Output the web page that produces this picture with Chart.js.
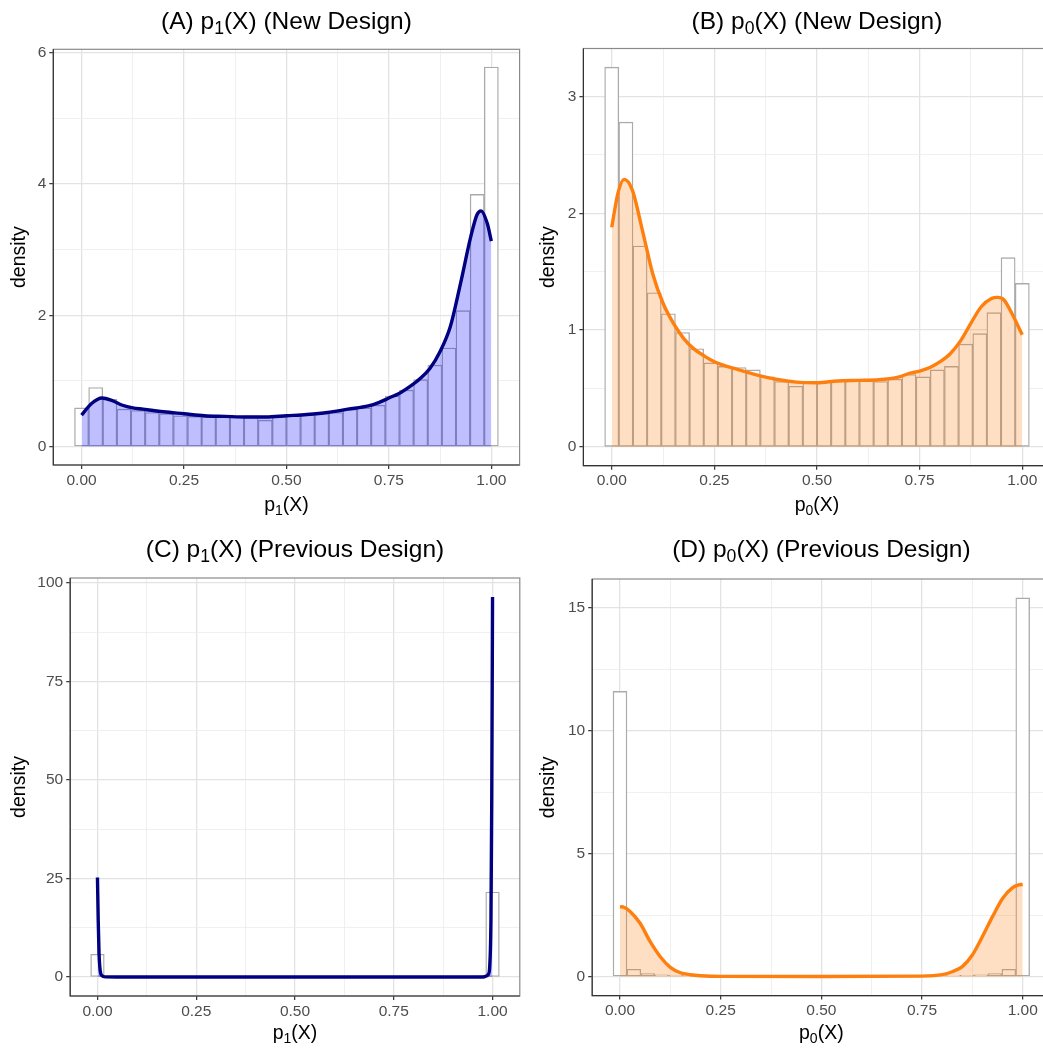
<!DOCTYPE html>
<html>
<head>
<meta charset="utf-8">
<script src="https://cdn.jsdelivr.net/npm/chart.js@4.4.1/dist/chart.umd.min.js"></script>
<style>
  html, body { margin: 0; padding: 0; background: #fff; overflow: hidden; }
  #wrap { position: relative; width: 1043px; height: 1050px; overflow: hidden; background: #fff; }
  canvas { position: absolute; }
</style>
</head>
<body>
<div id="wrap">
  <canvas id="chartA" width="530" height="525" style="left:0px;top:0px"></canvas>
  <canvas id="chartB" width="530" height="525" style="left:530px;top:0px"></canvas>
  <canvas id="chartC" width="530" height="525" style="left:0px;top:525px"></canvas>
  <canvas id="chartD" width="530" height="525" style="left:530px;top:525px"></canvas>
</div>
<script>
// histogram bin centres (30 bins, ggplot default)
const binCenters = [0, 0.0345, 0.069, 0.1034, 0.1379, 0.1724, 0.2069, 0.2414, 0.2759, 0.3103,
  0.3448, 0.3793, 0.4138, 0.4483, 0.4828, 0.5172, 0.5517, 0.5862, 0.6207, 0.6552,
  0.6897, 0.7241, 0.7586, 0.7931, 0.8276, 0.8621, 0.8966, 0.931, 0.9655, 1];

// (A) p1(X) new design
const histA = [0.59, 0.90, 0.72, 0.57, 0.55, 0.52, 0.50, 0.47, 0.46, 0.45, 0.45, 0.45, 0.47, 0.40, 0.46,
  0.48, 0.49, 0.51, 0.52, 0.57, 0.59, 0.63, 0.77, 0.86, 1.02, 1.24, 1.50, 2.07, 3.84, 5.78];
const densAX = [0, 0.025, 0.05, 0.075, 0.1, 0.125, 0.15, 0.175, 0.2, 0.25, 0.3, 0.35, 0.4, 0.45, 0.5, 0.55,
  0.6, 0.65, 0.7, 0.725, 0.75, 0.775, 0.8, 0.825, 0.85, 0.875, 0.9, 0.925, 0.95, 0.965, 0.975, 0.99, 1.0];
const densAY = [0.48, 0.66, 0.74, 0.70, 0.63, 0.59, 0.57, 0.55, 0.53, 0.50, 0.47, 0.46, 0.45, 0.45, 0.47, 0.49,
  0.52, 0.57, 0.62, 0.67, 0.74, 0.81, 0.91, 1.03, 1.19, 1.45, 1.83, 2.49, 3.20, 3.53, 3.59, 3.40, 3.13];

// (B) p0(X) new design
const histB = [3.25, 2.78, 1.72, 1.32, 1.14, 0.98, 0.84, 0.72, 0.69, 0.68, 0.66, 0.60, 0.56, 0.52, 0.56,
  0.56, 0.565, 0.57, 0.57, 0.56, 0.58, 0.62, 0.60, 0.66, 0.69, 0.88, 0.97, 1.15, 1.62, 1.40];
const densBX = [0, 0.015, 0.03, 0.05, 0.075, 0.1, 0.125, 0.15, 0.175, 0.2, 0.225, 0.25, 0.3, 0.35, 0.4, 0.45,
  0.5, 0.55, 0.6, 0.65, 0.7, 0.725, 0.75, 0.775, 0.8, 0.825, 0.85, 0.875, 0.9, 0.925, 0.94, 0.955, 0.975, 1.0];
const densBY = [1.88, 2.17, 2.29, 2.20, 1.85, 1.48, 1.23, 1.06, 0.93, 0.84, 0.78, 0.73, 0.67, 0.62, 0.58, 0.555,
  0.55, 0.565, 0.57, 0.575, 0.60, 0.63, 0.65, 0.68, 0.73, 0.80, 0.91, 1.06, 1.20, 1.27, 1.28, 1.26, 1.14, 0.96];

// (C) p1(X) previous design
const histC = [5.8, 0.15, 0.05, 0.03, 0.02, 0.02, 0.02, 0.01, 0.01, 0.01, 0.01, 0.01, 0.01, 0.01, 0.01,
  0.01, 0.01, 0.01, 0.01, 0.01, 0.01, 0.01, 0.02, 0.02, 0.02, 0.03, 0.04, 0.08, 0.3, 21.6];
const densCX = [0, 0.002, 0.004, 0.006, 0.008, 0.011, 0.015, 0.02, 0.05, 0.5, 0.95, 0.98, 0.985, 0.99,
  0.993, 0.996, 0.998, 1.0];
const densCY = [25.3, 14, 6, 2.5, 1.0, 0.4, 0.15, 0.05, 0.02, 0.01, 0.02, 0.1, 0.3, 0.8, 3, 15, 45, 96.5];

// (D) p0(X) previous design
const histD = [11.6, 0.30, 0.13, 0.07, 0.05, 0.04, 0.03, 0.03, 0.02, 0.02, 0.02, 0.02, 0.02, 0.02, 0.02,
  0.02, 0.02, 0.02, 0.02, 0.02, 0.02, 0.03, 0.03, 0.04, 0.04, 0.05, 0.07, 0.13, 0.30, 15.4];
const densDX = [0, 0.01, 0.025, 0.05, 0.075, 0.1, 0.125, 0.15, 0.175, 0.2, 0.25, 0.5, 0.75, 0.8, 0.825,
  0.85, 0.875, 0.9, 0.925, 0.95, 0.975, 0.99, 1.0];
const densDY = [2.85, 2.82, 2.65, 2.17, 1.42, 0.81, 0.38, 0.16, 0.08, 0.04, 0.01, 0.005, 0.02, 0.08, 0.2,
  0.41, 0.88, 1.63, 2.44, 3.18, 3.62, 3.73, 3.75];

// axis ticks
const xMajor = [0, 0.25, 0.5, 0.75, 1];
const xMinor = [0.125, 0.375, 0.625, 0.875];

const FONT = "'Liberation Sans', Arial, Helvetica, sans-serif";
Chart.defaults.font.family = FONT;

// text with a subscript part: parts = [[text, isSub], ...], centred on (cx, cy)
function drawRich(ctx, parts, size, cx, cy) {
  const subSize = size * 0.72;
  ctx.save();
  ctx.fillStyle = '#000';
  ctx.textBaseline = 'alphabetic';
  ctx.textAlign = 'left';
  let total = 0;
  const widths = parts.map(([t, sub]) => {
    ctx.font = (sub ? subSize : size) + 'px ' + FONT;
    const w = ctx.measureText(t).width;
    total += w;
    return w;
  });
  let x = cx - total / 2;
  const base = cy + size * 0.36;
  parts.forEach(([t, sub], i) => {
    ctx.font = (sub ? subSize : size) + 'px ' + FONT;
    ctx.fillText(t, x, base + (sub ? size * 0.22 : 0));
    x += widths[i];
  });
  ctx.restore();
}

// grey frame on top/right, dark axis lines left/bottom, plus titles
const panelFrame = {
  id: 'panelFrame',
  afterDatasetsDraw(chart, args, opts) {
    const { ctx, chartArea: a } = chart;
    ctx.save();
    ctx.strokeStyle = '#8a8a8a';
    ctx.lineWidth = 1.2;
    ctx.strokeRect(a.left, a.top, a.right - a.left, a.bottom - a.top);
    ctx.strokeStyle = '#333333';
    ctx.beginPath();
    ctx.moveTo(a.left, a.top);
    ctx.lineTo(a.left, a.bottom);
    ctx.lineTo(a.right, a.bottom);
    ctx.stroke();
    ctx.restore();
  },
  afterDraw(chart, args, opts) {
    const a = chart.chartArea;
    const cx = (a.left + a.right) / 2;
    drawRich(chart.ctx, opts.title, 24.5, cx, opts.titleY);
    drawRich(chart.ctx, opts.xTitle, 19.5, cx, opts.xTitleY);
  }
};

function makePanel(p) {
  const canvas = document.getElementById(p.id);
  const x0 = parseFloat(canvas.style.left), y0 = parseFloat(canvas.style.top);
  const w = canvas.width, h = canvas.height;
  const [L, T, R, B] = p.area;
  const axisLH = 19.5 * 1.2;
  const yMajor = p.yMajor, yMinor = p.yMinor;

  const isMajor = (majors, c) => c.tick && majors.includes(c.tick.value);
  const gridColor = (majors) => (c) => isMajor(majors, c) ? '#e3e3e3' : '#ececec';
  const gridWidth = (majors) => (c) => isMajor(majors, c) ? 1.3 : 0.8;
  const tickColor = (majors) => (c) => isMajor(majors, c) ? '#333333' : 'rgba(0,0,0,0)';

  return new Chart(canvas, {
    type: 'bar',
    data: {
      datasets: [
        {
          type: 'line',
          order: 0,
          data: p.densX.map((x, i) => ({ x: x, y: p.densY[i] })),
          borderColor: p.line,
          borderWidth: 3.4,
          backgroundColor: p.fill,
          fill: 'origin',
          pointRadius: 0,
          cubicInterpolationMode: 'monotone'
        },
        {
          type: 'bar',
          order: 1,
          data: binCenters.map((x, i) => ({ x: x, y: p.hist[i] })),
          backgroundColor: '#ffffff',
          borderColor: '#aaaaaa',
          borderWidth: 1.35,
          borderSkipped: false,
          barPercentage: 1,
          categoryPercentage: 1
        }
      ]
    },
    options: {
      responsive: false,
      animation: false,
      events: [],
      layout: { padding: { left: 0, top: T - y0, right: (x0 + w) - R, bottom: 0 } },
      plugins: {
        legend: { display: false },
        tooltip: { enabled: false },
        title: { display: false },
        panelFrame: { title: p.title, xTitle: p.xTitle, titleY: p.titleY - y0, xTitleY: p.xTitleY - y0 }
      },
      scales: {
        x: {
          type: 'linear',
          min: -0.069,
          max: 1.069,
          offset: false,
          afterBuildTicks: (axis) => { axis.ticks = xMajor.concat(xMinor).sort((a, b) => a - b).map(v => ({ value: v })); },
          afterFit: (scale) => { scale.height = (y0 + h) - B; },
          grid: { offset: false, color: gridColor(xMajor), lineWidth: gridWidth(xMajor), tickColor: tickColor(xMajor), tickLength: 4, tickWidth: 1.2 },
          border: { display: false },
          ticks: {
            autoSkip: false, maxRotation: 0, padding: 2, color: '#4d4d4d', font: { size: 15.5 },
            callback: (v) => xMajor.includes(v) ? v.toFixed(2) : ''
          },
          title: { display: false }
        },
        y: {
          type: 'linear',
          min: p.yMin,
          max: p.yMax,
          afterBuildTicks: (axis) => { axis.ticks = yMajor.concat(yMinor).sort((a, b) => a - b).map(v => ({ value: v })); },
          afterFit: (scale) => { scale.width = L - x0; },
          grid: { color: gridColor(yMajor), lineWidth: gridWidth(yMajor), tickColor: tickColor(yMajor), tickLength: 4, tickWidth: 1.2 },
          border: { display: false },
          ticks: {
            autoSkip: false, padding: 3, color: '#4d4d4d', font: { size: 15.5 },
            callback: (v) => yMajor.includes(v) ? String(v) : ''
          },
          title: {
            display: true, text: 'density', color: '#000', font: { size: 19.5 },
            padding: { top: p.yTitleX - x0 - axisLH / 2, bottom: 0 }
          }
        }
      }
    },
    plugins: [panelFrame]
  });
}

const NAVY = '#000080';
const BLUE_FILL = 'rgba(0,0,255,0.25)';
const ORANGE = '#ff7f0e';
const ORANGE_FILL = 'rgba(255,127,14,0.25)';

makePanel({ id: 'chartA', area: [53.3, 49.3, 519.6, 465], titleY: 20, xTitleY: 504, yTitleX: 20,
  title: [['(A) p', false], ['1', true], ['(X) (New Design)', false]], xTitle: [['p', false], ['1', true], ['(X)', false]],
  hist: histA, densX: densAX, densY: densAY,
  line: NAVY, fill: BLUE_FILL, yMin: -0.28, yMax: 6.05, yMajor: [0, 2, 4, 6], yMinor: [1, 3, 5] });

makePanel({ id: 'chartB', area: [583.4, 48.5, 1050.6, 465.7], titleY: 20, xTitleY: 504, yTitleX: 549,
  title: [['(B) p', false], ['0', true], ['(X) (New Design)', false]], xTitle: [['p', false], ['0', true], ['(X)', false]],
  hist: histB, densX: densBX, densY: densBY,
  line: ORANGE, fill: ORANGE_FILL, yMin: -0.16, yMax: 3.41, yMajor: [0, 1, 2, 3], yMinor: [0.5, 1.5, 2.5] });

makePanel({ id: 'chartC', area: [70.2, 578, 519.8, 996], titleY: 548, xTitleY: 1032, yTitleX: 20,
  title: [['(C) p', false], ['1', true], ['(X) (Previous Design)', false]], xTitle: [['p', false], ['1', true], ['(X)', false]],
  hist: histC, densX: densCX, densY: densCY,
  line: NAVY, fill: BLUE_FILL, yMin: -4.8, yMax: 101.3, yMajor: [0, 25, 50, 75, 100], yMinor: [12.5, 37.5, 62.5, 87.5] });

makePanel({ id: 'chartD', area: [592.2, 579, 1050.5, 995.6], titleY: 548, xTitleY: 1032, yTitleX: 549,
  title: [['(D) p', false], ['0', true], ['(X) (Previous Design)', false]], xTitle: [['p', false], ['0', true], ['(X)', false]],
  hist: histD, densX: densDX, densY: densDY,
  line: ORANGE, fill: ORANGE_FILL, yMin: -0.77, yMax: 16.17, yMajor: [0, 5, 10, 15], yMinor: [2.5, 7.5, 12.5] });
</script>
</body>
</html>
